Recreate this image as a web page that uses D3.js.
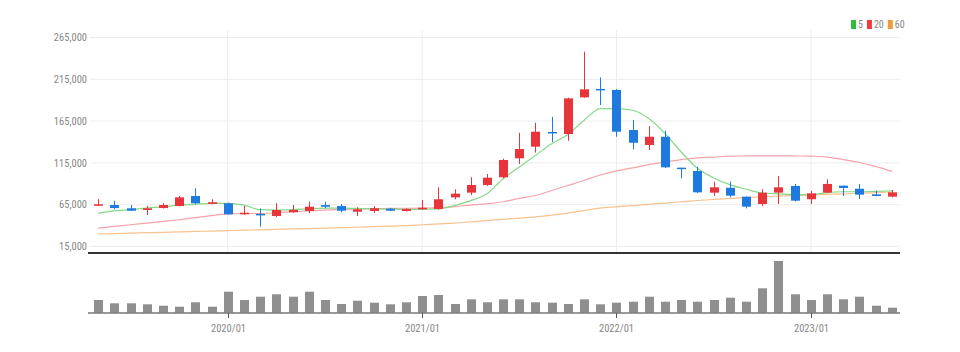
<!DOCTYPE html>
<html>
<head>
<meta charset="utf-8">
<script src="https://cdn.jsdelivr.net/npm/d3@7"></script>
<style>
  body { margin: 0; background: #fff; }
  svg { display: block; }
  text { font-family: "Liberation Sans Narrow", "Roboto Condensed", "Liberation Sans", sans-serif; }
</style>
</head>
<body>
<div id="chart"></div>
<script>
// monthly candles, 2019/05 .. 2023/06
const months = [
  "2019/05","2019/06","2019/07","2019/08","2019/09","2019/10","2019/11","2019/12",
  "2020/01","2020/02","2020/03","2020/04","2020/05","2020/06","2020/07","2020/08","2020/09","2020/10","2020/11","2020/12",
  "2021/01","2021/02","2021/03","2021/04","2021/05","2021/06","2021/07","2021/08","2021/09","2021/10","2021/11","2021/12",
  "2022/01","2022/02","2022/03","2022/04","2022/05","2022/06","2022/07","2022/08","2022/09","2022/10","2022/11","2022/12",
  "2023/01","2023/02","2023/03","2023/04","2023/05","2023/06"
];
const openP  = [64000,64600,60700,58700,61000,63400,75400,66000,66700,53500,54000,51500,56000,57500,64600,63400,56600,57500,60200,57500,
                59500,59800,73800,79400,88600,97800,120500,134400,152000,149500,193400,203500,202200,154300,136400,146300,109300,105300,79400,85300,
                74600,65800,79400,87400,71500,79400,87800,84100,77400,74600];
const closeP = [65500,61000,57800,60700,64600,73800,66700,68000,53500,55400,53000,58700,58700,62600,62600,57800,59500,60700,57800,59800,
                61400,71500,78200,88600,97300,118500,131600,152300,150500,192200,203000,202000,152300,139100,146300,109700,108300,79800,85800,75800,
                62600,79400,85800,69800,78600,89800,85000,77000,75400,79800];
const highP  = [71500,69800,64600,63400,66700,75400,84600,71500,67500,63400,60500,66700,64600,68600,68600,65800,61900,63400,61200,60500,
                70600,85800,83400,97800,101700,120000,151000,163000,170000,193000,248000,217300,203400,166300,159000,153500,109300,110400,92500,92500,
                75000,83400,99300,89800,81700,95400,87800,89800,81700,82600];
const lowP   = [63500,59500,57500,52700,60500,63000,65800,65500,53000,53000,38700,50000,55500,54700,60700,55900,51500,55400,57500,56900,
                59000,59300,71500,76600,87400,96600,113700,127200,140000,141500,193000,184200,146300,131200,130400,109000,96600,79000,75400,73800,
                60700,63400,65800,69000,65800,79000,75400,71800,75000,73800];
const volume = [127000,94000,94000,84000,70000,60000,104000,60000,210000,127000,160000,184000,160000,210000,127000,87000,120000,100000,84000,104000,
                167000,177000,87000,134000,104000,134000,134000,104000,100000,87000,134000,84000,100000,110000,160000,110000,127000,110000,127000,150000,
                110000,244000,517000,184000,127000,184000,134000,160000,70000,50000];
// moving averages as drawn in the chart
const ma5  = [54700,57500,59000,61000,62500,64500,65500,66500,66700,64500,59000,58500,59000,60000,61000,61000,60500,60000,59700,59500,
              59500,60000,64000,69800,78000,96000,110000,124000,138000,149000,166000,180000,180000,178000,168000,150000,128000,108500,97000,89000,
              83500,79000,78000,77000,77000,79500,80500,80500,81000,81500];
const ma20 = [37000,39000,41000,43000,45000,47000,49500,52000,54000,54500,54500,55500,56500,57500,58500,59300,60000,60300,60500,60700,
              61000,61500,62800,64500,66000,68500,72500,76000,82000,88000,94000,100500,105500,109000,113000,116000,119000,121000,122000,123000,
              123300,123500,123500,123300,123000,122000,119000,115500,110800,104500];
const ma60 = [30000,30500,31000,31500,32000,32500,33000,33500,34000,34500,35000,35500,36000,36500,37000,37500,38000,38700,39300,40000,
              41000,42000,43000,44500,46000,47500,49000,50500,52500,55000,58000,61000,62500,64000,65500,67000,68500,70000,71300,72500,
              73500,74500,75300,76000,76700,77300,78000,78800,79500,80200];
const priceTicks = [15000, 65000, 115000, 165000, 215000, 265000];
const yearTicks = ["2020/01", "2021/01", "2022/01", "2023/01"];
const maNames = ["5", "20", "60"];

const width = 960, height = 352;
const upColor = "#e8353c", downColor = "#1f7ae0";
const maColors = ["#86d886", "#f5a3ab", "#f7c28f"];
const legendColors = ["#2fbf3a", "#f03c44", "#f29b3c"];

const svg = d3.select("#chart").append("svg")
  .attr("width", width)
  .attr("height", height);

const x = d3.scaleBand()
  .domain(months)
  .range([90, 900])
  .paddingInner(0.44)
  .paddingOuter(0.22);
const cx = d => x(d) + x.bandwidth() / 2;

const y = d3.scaleLinear()
  .domain([15000, 265000])
  .range([246.5, 37.5]);

const yVol = d3.scaleLinear()
  .domain([0, d3.max(volume)])
  .range([312.7, 261]);

// grid
svg.append("g").selectAll("line")
  .data(priceTicks)
  .join("line")
  .attr("x1", 90).attr("x2", 900)
  .attr("y1", d => y(d)).attr("y2", d => y(d))
  .attr("stroke", "#ececec");

svg.append("g").selectAll("line")
  .data(yearTicks)
  .join("line")
  .attr("x1", d => cx(d)).attr("x2", d => cx(d))
  .attr("y1", 30).attr("y2", 253)
  .attr("stroke", "#ececec");

// y axis labels
svg.append("g").selectAll("text")
  .data(priceTicks)
  .join("text")
  .attr("x", 87)
  .attr("y", d => y(d))
  .attr("dy", "0.35em")
  .attr("text-anchor", "end")
  .attr("font-size", "10.5px")
  .attr("fill", "#888")
  .text(d => d3.format(",")(d));

// moving averages
[ma60, ma20, ma5].forEach((arr, k) => {
  const line = d3.line()
    .x((d, i) => cx(months[i]))
    .y(d => y(d))
    .curve(d3.curveMonotoneX);
  svg.append("path")
    .datum(arr)
    .attr("fill", "none")
    .attr("stroke", maColors[2 - k])
    .attr("stroke-width", 1.2)
    .attr("d", line);
});

// candles
const candles = months.map((m, i) => ({
  m, o: openP[i], c: closeP[i], h: highP[i], l: lowP[i]
}));
const cg = svg.append("g");
cg.selectAll("line")
  .data(candles)
  .join("line")
  .attr("x1", d => Math.round(cx(d.m)) + 0.5)
  .attr("x2", d => Math.round(cx(d.m)) + 0.5)
  .attr("y1", d => y(d.h))
  .attr("y2", d => y(d.l))
  .attr("stroke", d => d.c >= d.o ? upColor : downColor)
  .attr("stroke-width", 1);
cg.selectAll("rect")
  .data(candles)
  .join("rect")
  .attr("x", d => Math.round(cx(d.m)) + 0.5 - 4.5)
  .attr("width", 9)
  .attr("y", d => y(Math.max(d.o, d.c)))
  .attr("height", d => Math.max(1.5, Math.abs(y(d.o) - y(d.c))))
  .attr("fill", d => d.c >= d.o ? upColor : downColor);

// panel divider
svg.append("line")
  .attr("x1", 88).attr("x2", 900)
  .attr("y1", 253).attr("y2", 253)
  .attr("stroke", "#333")
  .attr("stroke-width", 2);

// volume bars
svg.append("g").selectAll("rect")
  .data(volume)
  .join("rect")
  .attr("x", (d, i) => Math.round(cx(months[i])) + 0.5 - 4.5)
  .attr("width", 9)
  .attr("y", d => yVol(d))
  .attr("height", d => yVol(0) - yVol(d))
  .attr("fill", "#8f8f8f");

svg.append("line")
  .attr("x1", 88).attr("x2", 900)
  .attr("y1", 313).attr("y2", 313)
  .attr("stroke", "#777")
  .attr("stroke-width", 1.5);

// x axis
const xg = svg.append("g").selectAll("g")
  .data(yearTicks)
  .join("g")
  .attr("transform", d => `translate(${Math.round(cx(d)) + 0.5},313)`);
xg.append("line")
  .attr("y1", 0).attr("y2", 5)
  .attr("stroke", "#555");
xg.append("text")
  .attr("y", 15)
  .attr("dy", "0.35em")
  .attr("text-anchor", "middle")
  .attr("font-size", "10.5px")
  .attr("fill", "#888")
  .text(d => d);

// legend
const lg = svg.append("g").attr("transform", "translate(851,20)");
let lx = 0;
maNames.forEach((n, k) => {
  lg.append("rect")
    .attr("x", lx).attr("y", 0)
    .attr("width", 5).attr("height", 9)
    .attr("fill", legendColors[k]);
  const t = lg.append("text")
    .attr("x", lx + 7).attr("y", 4.5)
    .attr("dy", "0.35em")
    .attr("font-size", "10px")
    .attr("fill", "#888")
    .text(n);
  lx += 7 + t.node().getComputedTextLength() + 4;
});
</script>
</body>
</html>
